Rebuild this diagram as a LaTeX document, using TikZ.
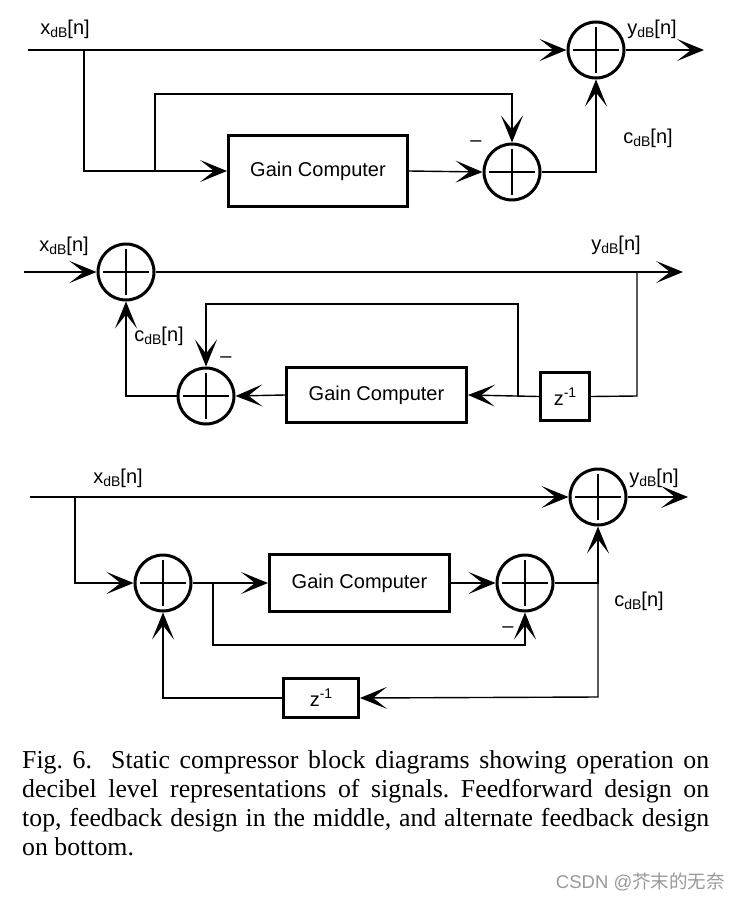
\documentclass[tikz,border=0pt]{standalone}
\usepackage{fontspec}
\setmainfont{Liberation Serif}
\setsansfont{Liberation Sans}
\newfontfamily\cjkfont{Noto Sans CJK SC}
\usetikzlibrary{arrows.meta}
\newcommand{\sigdb}[1]{#1\raisebox{-0.35ex}{\fontsize{14}{14}\selectfont dB}[n]}
\newcommand{\zinv}{z\raisebox{0.75ex}{\fontsize{14}{14}\selectfont -1}}
\tikzset{
  wire/.style={line width=1.4pt},
  conn/.style={line width=1.4pt, -{Stealth[length=27pt,width=22pt,inset=14pt]}},
  sumnode/.style={circle, draw, line width=3pt, minimum size=56pt, inner sep=0pt,
    path picture={\draw[line width=1.4pt]
      ([xshift=-23pt]path picture bounding box.center) -- ([xshift=23pt]path picture bounding box.center)
      ([yshift=-23pt]path picture bounding box.center) -- ([yshift=23pt]path picture bounding box.center);}},
  blockbox/.style={draw, line width=3pt, inner sep=0pt, font=\sffamily\fontsize{20}{23}\selectfont},
  lbl/.style={font=\sffamily\fontsize{20}{23}\selectfont, inner sep=0pt},
}
\begin{document}
\begin{tikzpicture}[x=1pt,y=-1pt]
\useasboundingbox (0,0) rectangle (742,902);
% ---------- top: feedforward ----------
\coordinate (in1) at (28,50);
\coordinate (j1) at (84,50);
\coordinate (j2) at (155,172);
\coordinate (j2t) at (155,94);
\coordinate (o1) at (704,50);
\node[sumnode] (s1) at (596,50) {};
\node[sumnode] (s2) at (512,172) {};
\node[blockbox, minimum width=179pt, minimum height=71pt] (g1) at (318,171) {Gain Computer};
\draw[conn] (in1) -- (s1.west);
\draw[conn] (j1) |- (g1.west);
\draw[conn] (j2) -- (j2t) -| (s2.north);
\draw[conn] (g1.east) -- (s2.west);
\draw[conn] (s2.east) -| (s1.south);
\draw[conn] (s1.east) -- (o1);
\node[lbl] (lx1) at (65,29) {\sigdb{x}};
\node[lbl] (ly1) at (652,29) {\sigdb{y}};
\node[lbl] (lc1) at (648,138) {\sigdb{c}};
\node[lbl] (m1) at (476,144) {--};
% ---------- middle: feedback ----------
\coordinate (in2) at (24,272);
\coordinate (o2) at (683,272);
\coordinate (t2) at (637,272);
\coordinate (t2b) at (637,396);
\coordinate (b2) at (518,396);
\coordinate (b2t) at (518,304);
\node[sumnode] (sA) at (126,272) {};
\node[sumnode] (sB) at (206,396) {};
\node[blockbox, minimum width=180pt, minimum height=55pt] (g2) at (376.5,395) {Gain Computer};
\node[blockbox, minimum width=49pt, minimum height=48pt] (z2) at (565,396.5) {\zinv};
\draw[conn] (in2) -- (sA.west);
\draw[conn] (sA.east) -- (o2);
\draw[wire] (t2) -- (t2b) -- (z2.east);
\draw[conn] (z2.west) -- (g2.east);
\draw[conn] (b2) -- (b2t) -| (sB.north);
\draw[conn] (g2.west) -- (sB.east);
\draw[conn] (sB.west) -| (sA.south);
\node[lbl] (lx2) at (64,246) {\sigdb{x}};
\node[lbl] (ly2) at (616,245) {\sigdb{y}};
\node[lbl] (lc2) at (159,336) {\sigdb{c}};
\node[lbl] (m2) at (226,360) {--};
% ---------- bottom: alternate feedback ----------
\coordinate (in3) at (30,497);
\coordinate (o3) at (688,497);
\coordinate (j3) at (75,497);
\coordinate (k3) at (213,583);
\coordinate (k3b) at (213,645);
\coordinate (r3) at (598,583);
\coordinate (r3b) at (598,697);
\node[sumnode] (sC) at (598,497) {};
\node[sumnode] (sD) at (163,583) {};
\node[sumnode] (sE) at (525,583) {};
\node[blockbox, minimum width=180pt, minimum height=57pt] (g3) at (359.5,583) {Gain Computer};
\node[blockbox, minimum width=75pt, minimum height=39pt] (z3) at (321,698) {\zinv};
\draw[conn] (in3) -- (sC.west);
\draw[conn] (sC.east) -- (o3);
\draw[conn] (j3) |- (sD.west);
\draw[conn] (sD.east) -- (g3.west);
\draw[conn] (k3) -- (k3b) -| (sE.south);
\draw[conn] (g3.east) -- (sE.west);
\draw[conn] (sE.east) -| (sC.south);
\draw[conn] (r3) -- (r3b) -- (z3.east);
\draw[conn] (z3.west) -| (sD.south);
\node[lbl] (lx3) at (118,478) {\sigdb{x}};
\node[lbl] (ly3) at (654,478) {\sigdb{y}};
\node[lbl] (lc3) at (639,601) {\sigdb{c}};
\node[lbl] (m3) at (508,630) {--};
% ---------- caption ----------
\node[anchor=base west, inner sep=0pt] (cap) at (22,768) {\parbox[t]{687pt}{\fontsize{25.8}{29}\selectfont\frenchspacing\noindent
Fig. 6.\ \ Static compressor block diagrams showing operation on\linebreak decibel level representations of signals. Feedforward design on\linebreak top, feedback design in the middle, and alternate feedback design\linebreak on bottom.}};
\node[anchor=base east, inner sep=0pt, text=black!40, font=\sffamily\fontsize{18.5}{20}\selectfont] (wm) at (725,888) {CSDN @{\cjkfont 芥末的无奈}};
\end{tikzpicture}
\end{document}
